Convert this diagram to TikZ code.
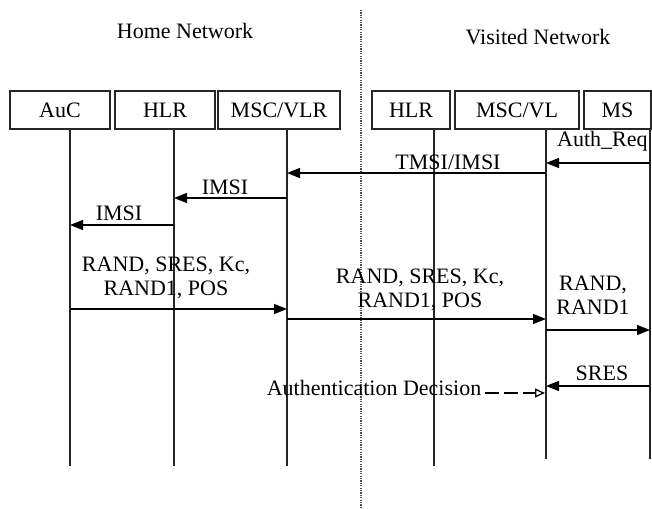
\documentclass[tikz,border=0pt]{standalone}
\usepackage{fontspec}
\setmainfont{Liberation Serif}
\usetikzlibrary{arrows.meta}
\begin{document}
\begin{tikzpicture}[x=1pt,y=-1pt,
  font=\fontsize{22}{24}\selectfont,
  ent/.style={draw=black!85, line width=1.4pt, minimum height=38pt, inner sep=0pt},
  life/.style={draw=black!85, line width=1.3pt},
  msg/.style={draw=black, line width=1.3pt, -{Triangle[length=13pt,width=10pt]}},
  lbl/.style={inner sep=0pt, align=center},
  decarrow/.style={draw=black, line width=1.3pt, dash pattern=on 14pt off 5pt, -{Triangle[open,length=10pt,width=9pt]}}]
\useasboundingbox (0,0) rectangle (652,508);
\fill[white] (0,0) rectangle (652,508);

% titles
\node[lbl] (home) at (185,31) {Home Network};
\node[lbl] (visited) at (538,37) {Visited Network};

% divider
\coordinate (divTop) at (361,10);
\coordinate (divBot) at (361,508);
\draw[black!70, line width=1.2pt, dash pattern=on 1.2pt off 1.2pt] (divTop) -- (divBot);

% entities
\node[ent, minimum width=100pt] (auc) at (60,110) {AuC};
\node[ent, minimum width=100pt] (hlr) at (165,110) {HLR};
\node[ent, minimum width=122pt] (vlr) at (279,110) {MSC/VLR};
\node[ent, minimum width=78pt] (vhlr) at (411,110) {HLR};
\node[ent, minimum width=124pt] (vl) at (517,110) {MSC/VL};
\node[ent, minimum width=67pt] (ms) at (617.5,110) {MS};

% lifelines
\coordinate (aucT) at (70,129);   \coordinate (aucB) at (70,466);
\coordinate (hlrT) at (174,129);  \coordinate (hlrB) at (174,466);
\coordinate (vlrT) at (287,129);  \coordinate (vlrB) at (287,466);
\coordinate (vhlrT) at (434,129); \coordinate (vhlrB) at (434,466);
\coordinate (vlT) at (546,129);   \coordinate (vlB) at (546,459);
\coordinate (msT) at (650,129);   \coordinate (msB) at (650,459);
\draw[life] (aucT) -- (aucB);
\draw[life] (hlrT) -- (hlrB);
\draw[life] (vlrT) -- (vlrB);
\draw[life] (vhlrT) -- (vhlrB);
\draw[life] (vlT) -- (vlB);
\draw[life] (msT) -- (msB);

% message end points
\coordinate (ms1) at (650,163);  \coordinate (vl1) at (546,163);
\coordinate (vl2) at (546,173);  \coordinate (vlr2) at (287,173);
\coordinate (vlr3) at (287,198); \coordinate (hlr3) at (174,198);
\coordinate (hlr4) at (174,225); \coordinate (auc4) at (70,225);
\coordinate (auc5) at (70,309);  \coordinate (vlr5) at (287,309);
\coordinate (vlr6) at (287,319); \coordinate (vl6) at (546,319);
\coordinate (vl7) at (546,330);  \coordinate (ms7) at (650,330);
\coordinate (ms8) at (650,386);  \coordinate (vl8) at (546,386);
\coordinate (decS) at (485,393); \coordinate (vl9) at (545,393);

% messages
\draw[msg] (ms1) -- (vl1);
\node[lbl, anchor=west] (authreq) at (557,141) {Auth\_Req};

\draw[msg] (vl2) -- (vlr2);
\node[lbl] (tmsi) at (448,162) {TMSI/IMSI};

\draw[msg] (vlr3) -- (hlr3);
\node[lbl] (imsi1) at (225,187) {IMSI};

\draw[msg] (hlr4) -- (auc4);
\node[lbl] (imsi2) at (119,213) {IMSI};

\draw[msg] (auc5) -- (vlr5);
\node[lbl] (rand1) at (166,278) {RAND, SRES, Kc,\\RAND1, POS};

\draw[msg] (vlr6) -- (vl6);
\node[lbl] (rand2) at (420,290) {RAND, SRES, Kc,\\RAND1, POS};

\draw[msg] (vl7) -- (ms7);
\node[lbl] (rand3) at (593,295) {RAND,\\RAND1};

\draw[msg] (ms8) -- (vl8);
\node[lbl] (sres) at (602,373) {SRES};

\node[lbl] (dec) at (374,388) {Authentication Decision};
\draw[decarrow] (decS) -- (vl9);
\end{tikzpicture}
\end{document}
